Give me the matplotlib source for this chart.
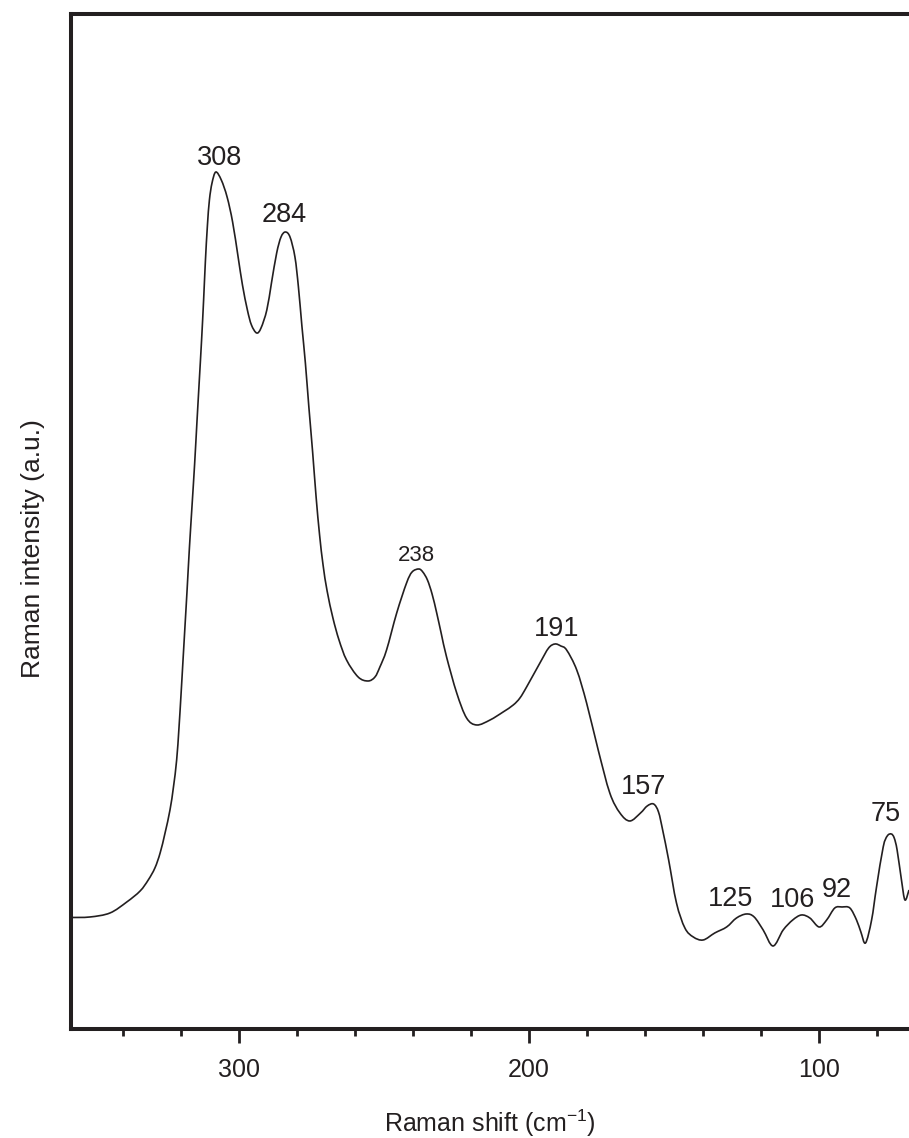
import numpy as np
import matplotlib
matplotlib.use("Agg")
import matplotlib.pyplot as plt
from matplotlib.ticker import MultipleLocator
from matplotlib.path import Path
from matplotlib.patches import PathPatch

plt.rcParams['font.family'] = ['Liberation Sans', 'DejaVu Sans']
plt.rcParams['mathtext.fontset'] = 'custom'
plt.rcParams['mathtext.rm'] = 'Liberation Sans'
plt.rcParams['mathtext.it'] = 'Liberation Sans:italic'

# Raman spectrum, shift (cm-1) vs intensity (a.u.)
shift = [358.1, 351.4, 344.5, 338.7, 334.1, 331.3, 329.0, 327.2, 325.5, 323.8,
         322.6, 321.5, 320.7, 320.0, 319.3, 318.6, 317.9, 317.1, 316.2, 315.3,
         314.5, 313.7, 312.9, 312.2, 311.6, 310.9, 310.2, 309.3, 308.0, 306.1,
         304.1, 302.2, 300.3, 298.8, 297.1, 295.7, 293.9, 292.4, 290.4, 288.8,
         287.0, 285.5, 284.0, 282.4, 280.7, 279.5, 278.3, 277.1, 275.9, 274.6,
         273.4, 272.2, 271.0, 269.6, 267.6, 265.5, 262.9, 258.9, 255.5, 253.1,
         251.4, 249.1, 245.6, 242.2, 240.3, 238.0, 236.6, 235.0, 233.4, 231.8,
         230.2, 228.4, 224.9, 221.5, 218.0, 213.4, 208.9, 205.4, 203.1, 200.8,
         196.2, 193.2, 191.0, 189.0, 187.0, 183.5, 180.1, 176.1, 172.1, 168.6,
         165.2, 161.5, 159.2, 157.0, 155.3, 153.8, 151.8, 149.1, 146.2, 143.3,
         139.9, 135.9, 131.8, 128.4, 125.0, 122.3, 119.2, 115.8, 112.3, 109.0,
         106.0, 103.1, 99.9, 97.3, 94.5, 92.0, 89.3, 87.0, 85.5, 83.9,
         81.8, 80.1, 77.8, 76.4, 75.0, 74.0, 73.0, 71.5, 70.3, 68.9]
intensity = [11.15, 11.2, 11.6, 12.7, 13.8, 14.9, 16.1, 17.6, 19.6, 21.9,
             24.2, 26.9, 30.1, 33.4, 36.9, 40.4, 43.9, 48.1, 52.3, 56.5,
             60.7, 64.8, 68.9, 72.9, 76.7, 80.3, 82.9, 84.6, 85.7, 84.9,
             83.2, 80.7, 77.2, 74.4, 71.9, 70.4, 69.6, 70.1, 71.9, 74.6,
             77.6, 79.2, 79.7, 79.2, 77.2, 74.2, 70.3, 66.6, 62.2, 57.7,
             53.2, 49.4, 46.4, 43.8, 41.1, 38.9, 36.9, 35.2, 34.8, 35.2,
             36.2, 37.9, 41.6, 44.6, 45.7, 46.0, 45.7, 44.9, 43.5, 41.6,
             39.5, 37.2, 33.6, 31.1, 30.4, 30.9, 31.7, 32.4, 33.1, 34.2,
             36.6, 38.1, 38.5, 38.3, 37.9, 35.9, 32.6, 27.9, 23.6, 21.6,
             20.8, 21.6, 22.3, 22.5, 21.7, 19.8, 16.9, 12.6, 10.1, 9.2,
             8.9, 9.6, 10.2, 11.1, 11.5, 11.2, 9.9, 8.3, 9.9, 10.9,
             11.4, 11.1, 10.2, 10.9, 12.1, 12.2, 12.1, 10.9, 9.7, 8.6,
             10.9, 14.2, 18.2, 19.3, 19.5, 19.1, 17.9, 14.9, 12.9, 13.9]

peaks = [308, 284, 238, 191, 157, 125, 106, 92, 75]
peak_labels = ['308', '284', '238', '191', '157', '125', '106', '92', '75']

# label nudges in points (dx, dy above the peak)
label_offsets = [(3, 5), (-1, 7), (-1.5, 5.5), (1, 6), (-7, 7), (-11.5, 5.5),
                 (-6.5, 6), (-4, 7.5), (-4, 9.5)]
label_sizes = [19.5, 19.5, 16, 19.5, 19.5, 19.5, 19.5, 19.5, 19.5]

ink = '#231f20'


def smooth_path(xs, ys):
    # Catmull-Rom through the measured points, drawn as cubic Bezier segments
    pts = np.column_stack([xs, ys]).astype(float)
    ext = np.vstack([pts[0], pts, pts[-1]])
    verts = [pts[0]]
    codes = [Path.MOVETO]
    for i in range(1, len(ext) - 2):
        p0, p1, p2, p3 = ext[i - 1], ext[i], ext[i + 1], ext[i + 2]
        verts += [p1 + (p2 - p0) / 6, p2 - (p3 - p1) / 6, p2]
        codes += [Path.CURVE4] * 3
    return Path(verts, codes)


fig = plt.figure(figsize=(9.09, 11.38), dpi=100)
ax = fig.add_axes([0.0776, 0.0958, 1 - 0.0776, 0.9877 - 0.0958])

ax.add_patch(PathPatch(smooth_path(shift, intensity), fill=False,
                       edgecolor=ink, lw=1.2, joinstyle='round'))

for p, lab, (dx, dy), fs in zip(peaks, peak_labels, label_offsets, label_sizes):
    y = intensity[shift.index(float(p))]
    ax.annotate(lab, xy=(p, y), xytext=(dx, dy), textcoords='offset points',
                ha='center', va='baseline', fontsize=fs, color=ink)

ax.set_xlim(358.1, 68.9)
ax.set_ylim(0, 101.5)

ax.xaxis.set_major_locator(MultipleLocator(100))
ax.xaxis.set_minor_locator(MultipleLocator(20))
ax.tick_params(axis='x', which='major', direction='out', length=10, width=2,
               color=ink, labelsize=18, pad=11, labelcolor=ink)
ax.tick_params(axis='x', which='minor', direction='out', length=5, width=2, color=ink)
ax.set_yticks([])

for side in ['left', 'top', 'bottom']:
    ax.spines[side].set_linewidth(2.9)
    ax.spines[side].set_color(ink)
ax.spines['right'].set_visible(False)

ax.set_xlabel(r'Raman shift (cm$^{\mathregular{-1}}$)', fontsize=18, color=ink)
ax.xaxis.set_label_coords(0.5, -0.077)
ax.set_ylabel('Raman intensity (a.u.)', fontsize=19, color=ink)
ax.yaxis.set_label_coords(-0.031, 0.473)

fig.savefig('out.png', dpi=100)
